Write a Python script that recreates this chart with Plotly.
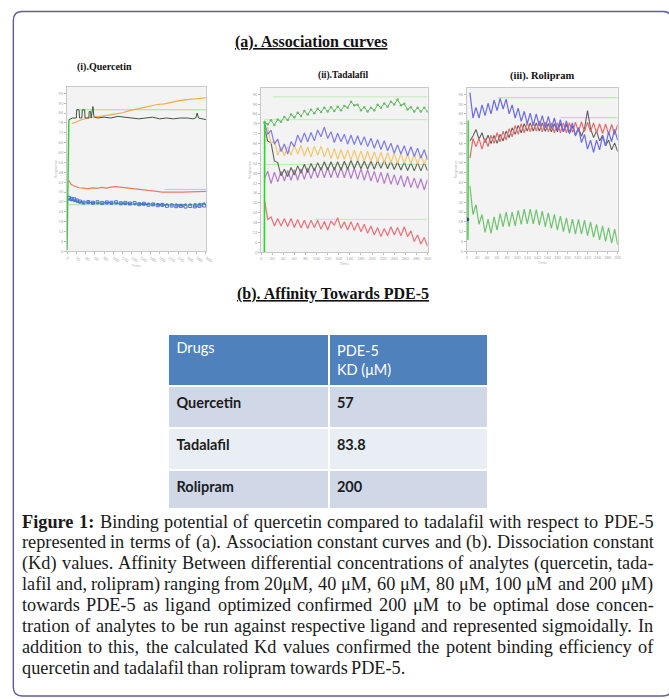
import plotly.graph_objects as go

W, H = 669, 699

# ---------------- data ----------------
# (i) Quercetin sensorgrams (time in s, response in %)
q_rise_t = [0, 2, 4]
q_rise = [1, 60, 80]
q_dark_t = [4, 12, 20, 21, 26, 27, 32, 33, 38, 39, 47, 48, 51, 52, 56, 58, 60, 66, 80, 95,
            110, 125, 140, 155, 170, 185, 200, 215, 230, 245, 260, 272, 278, 281, 284, 292, 300]
q_dark = [80, 81, 81, 86, 86, 81, 81, 86, 86, 81, 81, 85, 85, 81, 88, 82, 81.5, 81, 81.5, 81,
          82, 81.5, 81, 80.5, 81, 81.5, 80.5, 81, 80.5, 81, 81, 80.5, 81, 84, 81, 80.5, 80]
q_orange_t = [10, 20, 30, 45, 60, 75, 90, 105, 120, 135, 150, 165, 180, 195, 210, 225, 240, 255, 270, 285, 300]
q_orange = [77.5, 78.8, 79.8, 81, 81.5, 82, 82.8, 83.5, 84.2, 85.5, 86.5, 87.6, 88.4, 89.2, 89.6,
            90.6, 91.4, 92, 92.4, 93, 93.3]
q_red_t = [4, 6, 9, 14, 20, 26, 35, 45, 55, 65, 75, 85, 95, 105, 115, 125, 135, 145, 160, 175,
           190, 205, 220, 235, 250, 265, 280, 300]
q_red = [43, 42, 40.5, 39.8, 39, 38.6, 38.4, 38, 38.5, 38.2, 38.8, 38.4, 39, 39.3, 39, 38.6, 38.3,
         38, 37.4, 37, 36.6, 36, 35.9, 35.8, 35.9, 36.1, 36.3, 36.4]
q_low_t = [4, 10, 16, 22, 28, 36, 46, 56, 66, 76, 86, 96, 106, 116, 126, 136, 146, 156, 166, 176,
           186, 196, 206, 216, 226, 236, 246, 256, 266, 276, 286, 296]
q_blue = [32.5, 31.8, 31.6, 30.8, 30.2, 29.6, 29.9, 29.5, 29.8, 29.4, 29.7, 29.5, 29.8, 29.2, 29.4,
          29, 29.3, 28.6, 28.9, 28.3, 28.5, 28, 28.2, 27.6, 27.8, 27.4, 27.6, 27.2, 27.5, 27.3, 27.6, 27.8]
q_teal = [31.5, 31, 30.5, 30.2, 29.8, 29.5, 29.6, 29.2, 29.4, 29.1, 29.3, 29, 29.2, 29, 28.8, 28.9,
          28.7, 28.8, 28.6, 28.7, 28.5, 28.6, 28.4, 28.5, 28.3, 28.4, 28.2, 28.4, 28.5, 28.6, 28.8, 29]
# reference levels (start, end, level)
q_refs = [(19, 300, 86), (211, 300, 37.6), (4, 300, 28.3)]

# (ii) Tadalafil
t_grid = [6, 12, 18, 24, 30, 36, 42, 48, 54, 60, 66, 72, 78, 84, 90, 96, 102, 108, 114, 120,
          126, 132, 138, 144, 150, 156, 162, 168, 174, 180, 186, 192, 198, 204, 210, 216, 222, 228,
          234, 240, 246, 252, 258, 264, 270, 276, 282, 288, 294, 300]
t_green = [78.8, 77.8, 80.2, 77.4, 80.7, 79.4, 82.2, 80.4, 83.7, 82, 84.8, 82.8, 85.8, 83.8, 86.7,
           84.5, 87.2, 85.3, 87.9, 85.6, 88.2, 85.9, 88.5, 86.3, 88.9, 87.8, 91.5, 89.3, 89.7, 86.3,
           88.2, 85.6, 87.9, 86.3, 89.7, 87.8, 90.5, 88.5, 91.5, 89.8, 92.9, 89.3, 90.2, 86.8, 88.2,
           85.5, 87.9, 85.5, 87.9, 85.5]
t_blue = [78.8, 71.7, 74.3, 65.7, 68.8, 61.2, 65.8, 59.7, 67.3, 64.2, 71.3, 66.7, 72.6, 67.2, 72.8,
          67.7, 74.3, 70.2, 76.1, 69.2, 73.3, 66.7, 72.3, 67.2, 71.8, 65.7, 71.3, 65.5, 70.8, 65.2,
          70.3, 64.2, 69.3, 63.2, 68.5, 62.5, 67.8, 61.7, 66.3, 60.2, 65.3, 59.7, 64.8, 58.7, 64.1,
          58.2, 63.3, 57.2, 62.3, 56.2]
t_orange = [73, 76, 66, 68, 59, 64, 58.5, 64.2, 59, 65.4, 59.5, 65, 58.5, 64, 58, 64.5, 59, 64.5,
            58, 63.5, 57, 63, 56.5, 62.5, 56.4, 62.2, 56, 62, 55.8, 61.6, 55.5, 61.4, 55.2, 61, 55,
            60.8, 54.6, 60.5, 54.4, 60.2, 54, 60, 53.9, 59.8, 53.7, 59.6, 53.5, 59.5, 53.4, 59.4]
t_gray = [76.5, 67.5, 66.5, 55.5, 54.5, 46.5, 50.5, 46, 51.5, 47, 52.5, 48, 53.5, 48.5, 54, 49.5,
          54.5, 50, 55, 50, 55, 50, 55, 50, 55.3, 50.5, 55.8, 50.8, 55.8, 50.8, 55.5, 50.5, 55.5,
          50.5, 55.8, 51, 56, 50.8, 55.5, 50.3, 55, 50, 54.8, 49.7, 54.5, 49.5, 54.5, 49.5, 54.5, 49.5]
t_purple = [44.8, 49.2, 41.8, 48.7, 42.8, 49.2, 43.3, 49.7, 43.8, 50.2, 43.8, 50.7, 44.3, 51.2,
            44.8, 51.2, 45.3, 51.7, 45.3, 51.7, 45.3, 51.7, 45.3, 51.7, 45.3, 51.7, 44.8, 51.2,
            44.3, 50.7, 43.8, 50.2, 43.3, 49.2, 42.3, 48.7, 41.8, 48.2, 41.3, 47.2, 40.8, 46.7,
            39.8, 46.2, 39.3, 45.2, 38.8, 44.7, 38, 44.2]
t_red = [32, 20, 21.5, 16, 20.5, 16, 20.5, 15.7, 20.5, 15, 20, 14.8, 19.5, 14.5, 19.5, 15, 19.5,
         14, 18.7, 13.5, 19, 16.5, 21, 14.5, 18.5, 13.5, 18.5, 13.3, 18, 12.5, 17, 11.5, 16, 10.5,
         15, 9.5, 14.5, 10, 15.5, 10.5, 15, 10, 15.5, 9.5, 13, 6.5, 10.5, 5, 9, 3.5]
t_rise_t = [6, 6.5]
t_rise = [0, 80]
t_refs = [(21, 300, 94.5), (6, 300, 80.6), (6, 300, 53.3), (96, 300, 20)]

# (iii) Rolipram
r_blue = [97, 81.5, 88, 81.5, 89.5, 83, 90.5, 84, 92.5, 86, 93.5, 87, 93, 84, 89.5, 81.5, 87.5,
          79.5, 85.5, 78, 84.5, 77, 84, 76.5, 83, 75.5, 82.5, 75, 81.5, 74, 80.5, 73, 79.7, 72.5,
          78.5, 70.5, 75.5, 66.5, 71.5, 62.5, 68, 60.5, 68, 62, 70.5, 64.5, 73, 67, 74.5, 67.8]
r_red = [57, 69, 64, 69, 62.5, 69, 64, 71, 66, 72.5, 67, 73.5, 68, 75, 70, 77, 71.5, 78, 72.5, 79,
         73, 79, 73.5, 79.5, 73, 79, 73, 78.5, 72.5, 78.5, 72.5, 78.5, 72.5, 78.6, 72.8, 79, 73,
         79.2, 73.2, 79, 73, 78.5, 72.5, 78, 72, 77.8, 71.5, 77.5, 71.4, 77.4]
r_gray = [67.5, 70.5, 74.5, 68.5, 72.5, 66.5, 71, 65.8, 70.8, 66, 71.5, 67.5, 73.5, 69.5, 75.5,
          71.5, 77, 72.5, 78, 73.5, 78.5, 73.5, 78.5, 73.5, 78.5, 73.3, 78.1, 73, 78, 73.1, 78.1,
          73, 77.5, 72, 76.5, 71, 75.5, 70.3, 75.1, 86, 75.1, 69.5, 73.5, 67.5, 71, 64.5, 68, 62,
          66.3, 60.9]
r_green = [40, 22.5, 28.5, 16.5, 22.5, 11.5, 19.7, 11, 21, 13, 23, 15, 24, 15, 24, 15.5, 25, 16.5,
           25.8, 16.8, 25.8, 16.8, 25.5, 16, 24.5, 15, 23.5, 14, 22.5, 13, 21.5, 12, 20.5, 11, 19.7,
           10.5, 19.5, 10.5, 19, 9.5, 18, 8.5, 16.5, 7, 15.5, 6, 14.5, 5, 13.5, 4]
r_rise_t = [2, 2.5]
r_rise = [7, 80]
r_refs = [(61, 300, 93.9), (186, 300, 81.7)]

# (b) dissociation constants
drugs = ["Quercetin", "Tadalafil", "Rolipram"]
kd_um = [57, 83.8, 200]

# caption lines; **...** marks bold words
caption_lines = [
    "**Figure 1:** Binding potential of quercetin compared to tadalafil with respect to PDE-5",
    "represented in terms of (a). Association constant curves and (b). Dissociation constant",
    "(Kd) values. Affinity Between differential concentrations of analytes (quercetin, tada-",
    "lafil and, rolipram) ranging from 20μM, 40 μM, 60 μM, 80 μM, 100 μM and 200 μM)",
    "towards PDE-5 as ligand optimized confirmed 200 μM to be optimal dose concen-",
    "tration of analytes to be run against respective ligand and represented sigmoidally. In",
    "addition to this, the calculated Kd values confirmed the potent binding efficiency of",
    "quercetin and tadalafil than rolipram towards PDE-5.",
]

# ---------------- helpers ----------------
def px(x):
    return x / W


def py(y):
    return 1 - y / H


fig = go.Figure()

SERIF = "Liberation Serif"
SANS = "Lato"

panels = [
    ("x", "y", (66, 207), (87, 252)),
    ("x2", "y2", (263, 432), (88, 253)),
    ("x3", "y3", (472, 625), (88, 252)),
]


def line(xa, ya, t, v, color, width=1.0, dash=None, mode="lines", marker=None):
    tr = go.Scatter(x=t, y=v, xaxis=xa, yaxis=ya, mode=mode,
                    line=dict(color=color, width=width, dash=dash),
                    hoverinfo="skip", showlegend=False)
    if marker:
        tr.marker = marker
    fig.add_trace(tr)


def refs(xa, ya, items, color):
    for a, b, lvl in items:
        line(xa, ya, [a, b], [lvl, lvl], color, 1.0)


# Quercetin
refs("x", "y", q_refs, "#9fe39a")
line("x", "y", q_orange_t, q_orange, "#f3a94c", 1.2)
line("x", "y", q_red_t, q_red, "#ea7a68", 1.2)
line("x", "y", q_low_t, q_teal, "#3aa08c", 1.0, "dot", "lines+markers", dict(size=2.5, color="#3aa08c"))
line("x", "y", q_low_t, q_blue, "#4b6fd6", 1.0, "dash", "lines+markers",
     dict(size=3, symbol="square-open", color="#4b6fd6"))
line("x", "y", q_dark_t, q_dark, "#3d573d", 1.0)
line("x", "y", q_rise_t, q_rise, "#35c935", 1.4)

# Tadalafil
refs("x2", "y2", t_refs, "#bfeabb")
line("x2", "y2", t_grid, t_purple, "#b57acb", 1.2)
line("x2", "y2", t_grid, t_gray, "#5d6552", 1.1)
line("x2", "y2", t_grid, t_orange, "#f6c86e", 1.2)
line("x2", "y2", t_grid, t_blue, "#7c7cf0", 1.2)
line("x2", "y2", t_grid, t_red, "#f07078", 1.2)
line("x2", "y2", t_grid, t_green, "#69bd69", 1.0, None, "lines+markers", dict(size=2.5, color="#69bd69"))
line("x2", "y2", t_rise_t, t_rise, "#2fd22f", 1.6)

# Rolipram
refs("x3", "y3", r_refs, "#a9e6a4")
line("x3", "y3", t_grid, r_gray, "#5c5f5c", 1.1)
line("x3", "y3", t_grid, r_red, "#ee6a6a", 1.2)
line("x3", "y3", t_grid, r_blue, "#6a6af0", 1.2)
line("x3", "y3", t_grid, r_green, "#6fc46f", 1.2)
line("x3", "y3", r_rise_t, r_rise, "#33cc33", 1.4)
line("x3", "y3", [0.5], [19.5], "#2b3f8f", 1, None, "markers", dict(size=4, color="#2b3f8f"))

axis_common = dict(showline=True, mirror=True, linecolor="#c9c9c9", linewidth=1,
                   ticks="outside", ticklen=2, tickcolor="#c0c0c0", showgrid=False,
                   zeroline=False, tickfont=dict(size=4, color="#a8a8a8", family=SANS))
layout_axes = {}
for i, (xa, ya, (x0, x1), (y0, y1)) in enumerate(panels):
    sfx = "" if i == 0 else str(i + 1)
    layout_axes["xaxis" + sfx] = dict(axis_common, domain=[px(x0), px(x1)], range=[0, 300],
                                      dtick=20, anchor="y" + sfx,
                                      title=dict(text="Time", font=dict(size=4, color="#aaa"), standoff=1))
    layout_axes["yaxis" + sfx] = dict(axis_common, domain=[py(y1), py(y0)], range=[0, 100],
                                      dtick=6, anchor="x" + sfx,
                                      title=dict(text="Response", font=dict(size=4, color="#aaa"), standoff=1))

fig.update_layout(**layout_axes)

# Kd table
band = ["#d0d8e8", "#e9edf4", "#d0d8e8"]
fig.add_trace(go.Table(
    domain=dict(x=[px(169), px(493)], y=[py(510), py(335)]),
    columnwidth=[163, 161],
    header=dict(values=["Drugs", "PDE-5<br>KD (μM)"], fill_color="#4f81bd", align="left",
                font=dict(family=SANS, size=14.5, color="white"), height=50,
                line=dict(color="white", width=1.5)),
    cells=dict(values=[[f"<b>{d}</b>" for d in drugs], [f"<b>{k:g}</b>" for k in kd_um]],
               fill_color=[band, band], align="left",
               font=dict(family=SANS, size=14.5, color="#1c1c1c"), height=42,
               line=dict(color="white", width=1.5)),
))

annotations = []


def text(x, y, s, size, family=SERIF, xanchor="center", color="#111"):
    annotations.append(dict(x=px(x), y=py(y), xref="paper", yref="paper", text=s,
                            showarrow=False, xanchor=xanchor, yanchor="middle",
                            font=dict(family=family, size=size, color=color),
                            borderpad=0, borderwidth=0))


text(314, 42, "<b><u>(a). Association curves</u></b>", 16)
text(104, 67, "<b>(i).Quercetin</b>", 10)
text(346, 76, "<b>(ii).Tadalafil</b>", 9.5)
text(548, 76, "<b>(iii). Rolipram</b>", 10.5)
text(336, 295, "<b><u>(b). Affinity Towards PDE-5</u></b>", 16)

# Justified caption: word positions from Times-compatible advance widths
REG = {' ': .25, 'a': .444, 'b': .5, 'c': .444, 'd': .5, 'e': .444, 'f': .333, 'g': .5, 'h': .5,
       'i': .278, 'j': .278, 'k': .5, 'l': .278, 'm': .778, 'n': .5, 'o': .5, 'p': .5, 'q': .5,
       'r': .333, 's': .389, 't': .278, 'u': .5, 'v': .5, 'w': .722, 'x': .5, 'y': .5, 'z': .444,
       'A': .722, 'B': .667, 'C': .667, 'D': .722, 'E': .611, 'F': .556, 'G': .722, 'H': .722,
       'I': .333, 'J': .389, 'K': .722, 'L': .611, 'M': .889, 'N': .722, 'O': .722, 'P': .556,
       'Q': .722, 'R': .667, 'S': .556, 'T': .611, 'U': .722, 'V': .722, 'W': .944, 'X': .722,
       'Y': .722, 'Z': .611, '.': .25, ',': .25, ':': .278, '(': .333, ')': .333, '-': .333,
       'μ': .576}
BOLD = dict(REG, **{'F': .611, 'u': .556, 'r': .444, ':': .333})
FS = 18.3
LEFT, RIGHT = 20, 661
LINE_Y0, LINE_DY = 523, 21.0


def width(word, bold):
    table = BOLD if bold else REG
    return sum(table.get(c, .5) for c in word) * FS


for li, raw in enumerate(caption_lines):
    toks = []
    bold = False
    for part in raw.split("**"):
        for w in part.split():
            toks.append((w, bold))
        bold = not bold
    widths = [width(w, b) for w, b in toks]
    last = li == len(caption_lines) - 1
    gap = REG[' '] * FS if last else (RIGHT - LEFT - sum(widths)) / (len(toks) - 1)
    x = LEFT
    y = LINE_Y0 + li * LINE_DY
    for (w, b), wd in zip(toks, widths):
        text(x, y, f"<b>{w}</b>" if b else w, FS, xanchor="left", color="#1a1a1a")
        x += wd + gap


def rounded_rect(x0, y0, x1, y1, r):
    rx, ry = r / W, r / H
    X0, X1, Y0, Y1 = px(x0), px(x1), py(y0), py(y1)
    return (f"M {X0 + rx},{Y0} L {X1 - rx},{Y0} Q {X1},{Y0} {X1},{Y0 - ry} "
            f"L {X1},{Y1 + ry} Q {X1},{Y1} {X1 - rx},{Y1} L {X0 + rx},{Y1} "
            f"Q {X0},{Y1} {X0},{Y1 + ry} L {X0},{Y0 - ry} Q {X0},{Y0} {X0 + rx},{Y0} Z")


fig.update_layout(
    width=W, height=H,
    margin=dict(l=0, r=0, t=0, b=0),
    paper_bgcolor="white", plot_bgcolor="#f3f3f3",
    showlegend=False,
    annotations=annotations,
    shapes=[dict(type="path", xref="paper", yref="paper",
                 path=rounded_rect(11.5, 11.5, 680, 698, 9),
                 line=dict(color="#5d5c9c", width=1.4))],
)

fig.write_html("out.html")
